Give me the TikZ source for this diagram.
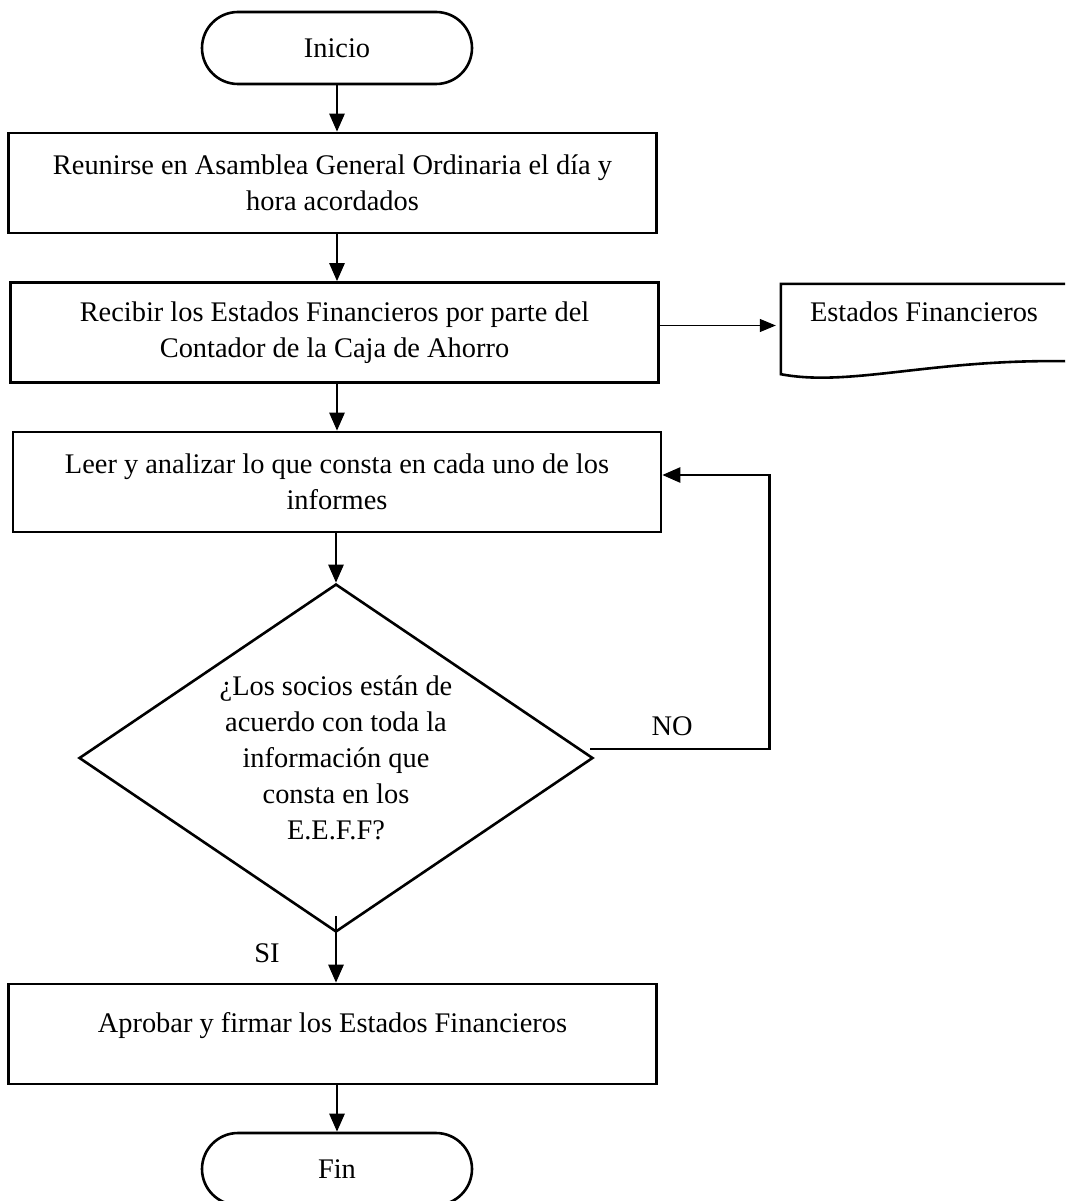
\documentclass[tikz,border=0pt]{standalone}
\usepackage{fontspec}
\setmainfont{Liberation Serif}
\usetikzlibrary{arrows.meta,shapes.geometric,shapes.misc,calc}

\begin{document}
\begin{tikzpicture}[x=1pt,y=-1pt,
  font=\fontsize{28.4}{36}\selectfont,
  ln/.style={line width=2.6pt},
  arr/.style={ln,-{Triangle[length=18pt,width=15pt]}},
  thinarr/.style={line width=1.1pt,-{Triangle[length=16pt,width=13pt]}},
  term/.style={draw,ln,rounded rectangle,minimum width=270pt,minimum height=72pt,inner sep=0pt},
  proc/.style={draw,ln,rectangle,minimum width=648pt,minimum height=100pt,inner sep=0pt,align=center},
  decision/.style={draw,ln,diamond,minimum width=514pt,minimum height=348pt,inner sep=0pt},
  docarea/.style={rectangle,minimum width=284pt,minimum height=90pt,inner sep=0pt},
  lbl/.style={inner sep=0pt}
]
\useasboundingbox (0,0) rectangle (1065,1201);

% start / end terminals
\node[term] (inicio) at (337,48) {Inicio};
\node[term] (fin) at (337,1169) {Fin};

% process steps
\node[proc] (box1) at (332.5,183)
  {Reunirse en Asamblea General Ordinaria el día y\\hora acordados};
\node[proc] (box2) at (334.5,332.5)
  {Recibir los Estados Financieros por parte del\\Contador de la Caja de Ahorro};
\node[proc] (box3) at (337,482)
  {Leer y analizar lo que consta en cada uno de los\\informes};
\node[proc,text depth=24pt] (box5) at (332.5,1034)
  {Aprobar y firmar los Estados Financieros};

% decision
\node[decision] (dec) at (336,758) {};
\node[lbl,align=center] (dectext) at (dec.center)
  {¿Los socios están de\\acuerdo con toda la\\información que\\consta en los\\E.E.F.F?};

% document symbol, open on its right side
\node[docarea] (doc) at (923,329) {};
\draw[ln] (doc.north east) -- (doc.north west) -- (doc.south west)
  .. controls ($(doc.south west)+(69,13)$) and ($(doc.south west)+(149,-15)$)
  .. ($(doc.south east)+(0,-13)$);
\node[lbl,anchor=base] (doctext) at ($(doc.north)+(1,38)$) {Estados Financieros};

% branch labels
\node[lbl] (no) at (672,726) {NO};
\node[lbl] (si) at (267,953) {SI};

% main flow
\draw[arr] (inicio.south) -- (inicio.south |- box1.north);
\draw[arr] (inicio.south |- box1.south) -- (inicio.south |- box2.north);
\draw[arr] (inicio.south |- box2.south) -- (inicio.south |- box3.north);
\draw[arr] (dec.north |- box3.south) -- (dec.north);
\draw[arr] ([yshift=17pt]dec.south) -- (dec.south |- box5.north);
\draw[arr] (fin.north |- box5.south) -- (fin.north);

% output document
\draw[thinarr] ([yshift=7pt]box2.east) -- ([xshift=-5pt,yshift=7pt]box2.east -| doc.west);

% loop back when the answer is NO
\draw[arr] ([xshift=-4pt,yshift=9pt]dec.east)
  -| ([xshift=107pt,yshift=7pt]box3.east) -- ([yshift=7pt]box3.east);
\end{tikzpicture}
\end{document}
